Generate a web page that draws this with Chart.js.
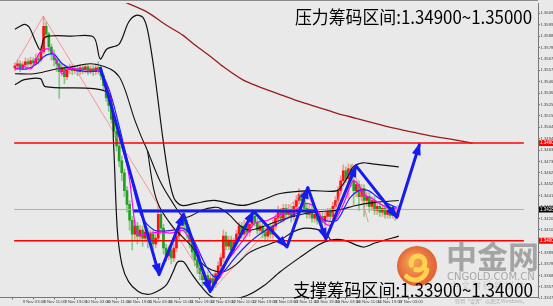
<!DOCTYPE html>
<html><head><meta charset="utf-8">
<script src="https://cdn.jsdelivr.net/npm/chart.js@4.4.0/dist/chart.umd.min.js"></script>
<style>html,body{margin:0;padding:0;background:#e9e9e9;}canvas{display:block;}</style>
</head><body>
<canvas id="c" width="553" height="306"></canvas>
<script>
// ---- data (hourly bars, 9 Nov 00:00 -> 17 Nov 03:00) ----
const open = [1.35593,1.35611,1.35630,1.35593,1.35620,1.35648,1.35630,1.35657,1.35639,1.35675,
1.35666,1.35739,1.35976,1.35903,1.35785,1.35721,1.35666,1.35630,1.35557,1.35593,
1.35511,1.35575,1.35593,1.35566,1.35584,1.35557,1.35593,1.35575,1.35602,1.35566,
1.35584,1.35557,1.35593,1.35575,1.35520,1.35429,1.35319,1.35247,1.35119,1.35009,
1.34873,1.34736,1.34626,1.34462,1.34335,1.34189,1.34061,1.34134,1.34043,1.34097,
1.34024,1.34079,1.34006,1.34061,1.33970,1.34024,1.34243,1.34116,1.33933,1.33860,
1.33915,1.33842,1.33933,1.34043,1.34152,1.34225,1.34152,1.34079,1.33988,1.33897,
1.33824,1.33751,1.33696,1.33641,1.33678,1.33614,1.33651,1.33605,1.33696,1.33769,
1.33842,1.34043,1.33951,1.34006,1.33915,1.33988,1.34061,1.34134,1.34061,1.34134,
1.34079,1.34152,1.34225,1.34170,1.34097,1.34134,1.34079,1.34043,1.34116,1.34061,
1.34134,1.34207,1.34262,1.34207,1.34298,1.34243,1.34280,1.34225,1.34316,1.34371,
1.34426,1.34371,1.34298,1.34243,1.34280,1.34207,1.34243,1.34189,1.34225,1.34170,
1.34225,1.34262,1.34225,1.34316,1.34371,1.34462,1.34553,1.34645,1.34572,1.34663,
1.34553,1.34462,1.34517,1.34407,1.34480,1.34371,1.34407,1.34316,1.34371,1.34280,
1.34316,1.34262,1.34298,1.34243,1.34280,1.34234,1.34262,1.34225];
const close = [1.35611,1.35630,1.35593,1.35620,1.35648,1.35630,1.35657,1.35639,1.35675,1.35666,
1.35739,1.35976,1.35903,1.35785,1.35721,1.35666,1.35630,1.35557,1.35593,1.35511,
1.35575,1.35593,1.35566,1.35584,1.35557,1.35593,1.35575,1.35602,1.35566,1.35584,
1.35557,1.35593,1.35575,1.35520,1.35429,1.35319,1.35247,1.35119,1.35009,1.34873,
1.34736,1.34626,1.34462,1.34335,1.34189,1.34061,1.34134,1.34043,1.34097,1.34024,
1.34079,1.34006,1.34061,1.33970,1.34024,1.34243,1.34116,1.33933,1.33860,1.33915,
1.33842,1.33933,1.34043,1.34152,1.34225,1.34152,1.34079,1.33988,1.33897,1.33824,
1.33751,1.33696,1.33641,1.33678,1.33614,1.33651,1.33605,1.33696,1.33769,1.33842,
1.34043,1.33951,1.34006,1.33915,1.33988,1.34061,1.34134,1.34061,1.34134,1.34079,
1.34152,1.34225,1.34170,1.34097,1.34134,1.34079,1.34043,1.34116,1.34061,1.34134,
1.34207,1.34262,1.34207,1.34298,1.34243,1.34280,1.34225,1.34316,1.34371,1.34426,
1.34371,1.34298,1.34243,1.34280,1.34207,1.34243,1.34189,1.34225,1.34170,1.34225,
1.34262,1.34225,1.34316,1.34371,1.34462,1.34553,1.34645,1.34572,1.34663,1.34553,
1.34462,1.34517,1.34407,1.34480,1.34371,1.34407,1.34316,1.34371,1.34280,1.34316,
1.34262,1.34298,1.34243,1.34280,1.34234,1.34262,1.34225,1.34289];
const high = [1.35639,1.35666,1.35657,1.35648,1.35684,1.35675,1.35693,1.35684,1.35721,1.35721,
1.35794,1.36067,1.36013,1.35921,1.35812,1.35757,1.35703,1.35666,1.35630,1.35620,
1.35602,1.35630,1.35620,1.35611,1.35611,1.35620,1.35620,1.35630,1.35620,1.35611,
1.35611,1.35630,1.35648,1.35602,1.35538,1.35447,1.35356,1.35283,1.35155,1.35046,
1.34918,1.34781,1.34663,1.34499,1.34371,1.34225,1.34189,1.34170,1.34143,1.34134,
1.34116,1.34116,1.34097,1.34097,1.34079,1.34325,1.34280,1.34152,1.33970,1.33951,
1.33951,1.33970,1.34079,1.34189,1.34280,1.34262,1.34189,1.34116,1.34024,1.33933,
1.33860,1.33787,1.33733,1.33714,1.33714,1.33687,1.33696,1.33733,1.33806,1.33879,
1.34097,1.34079,1.34043,1.34043,1.34024,1.34097,1.34170,1.34170,1.34189,1.34170,
1.34207,1.34280,1.34262,1.34207,1.34189,1.34170,1.34116,1.34152,1.34152,1.34189,
1.34243,1.34316,1.34298,1.34335,1.34335,1.34335,1.34316,1.34353,1.34417,1.34480,
1.34462,1.34407,1.34335,1.34325,1.34316,1.34280,1.34280,1.34262,1.34262,1.34262,
1.34298,1.34298,1.34353,1.34407,1.34499,1.34599,1.34699,1.34681,1.34708,1.34699,
1.34590,1.34553,1.34553,1.34517,1.34517,1.34444,1.34444,1.34407,1.34407,1.34353,
1.34353,1.34335,1.34335,1.34316,1.34316,1.34298,1.34298,1.34325];
const low = [1.35566,1.35593,1.35557,1.35575,1.35602,1.35593,1.35611,1.35602,1.35630,1.35630,
1.35648,1.35721,1.35867,1.35739,1.35666,1.35611,1.35557,1.35310,1.35520,1.35447,
1.35484,1.35538,1.35529,1.35538,1.35520,1.35529,1.35538,1.35547,1.35529,1.35538,
1.35520,1.35529,1.35538,1.35484,1.35392,1.35283,1.35192,1.35082,1.34955,1.34827,
1.34681,1.34553,1.34407,1.34262,1.34097,1.33915,1.34006,1.33970,1.34006,1.33951,
1.33988,1.33933,1.33970,1.33915,1.33933,1.33988,1.34061,1.33879,1.33806,1.33824,
1.33787,1.33806,1.33897,1.34006,1.34116,1.34097,1.34024,1.33933,1.33842,1.33769,
1.33696,1.33641,1.33587,1.33605,1.33550,1.33568,1.33541,1.33568,1.33660,1.33733,
1.33806,1.33915,1.33915,1.33860,1.33879,1.33951,1.34024,1.34024,1.34024,1.34043,
1.34043,1.34116,1.34134,1.34061,1.34061,1.34024,1.33988,1.34006,1.34024,1.34024,
1.34097,1.34170,1.34170,1.34170,1.34207,1.34207,1.34170,1.34189,1.34280,1.34335,
1.34335,1.34262,1.34207,1.34207,1.34170,1.34170,1.34152,1.34152,1.34134,1.34134,
1.34189,1.34189,1.34189,1.34280,1.34335,1.34426,1.34517,1.34535,1.34389,1.34499,
1.34335,1.34407,1.34280,1.34371,1.34225,1.34316,1.34262,1.34280,1.34243,1.34243,
1.34225,1.34225,1.34207,1.34207,1.34207,1.34207,1.34189,1.34207];

// time axis labels (bar index, text)
const timeTickBars = [3,11,19,27,35,43,51,59,67,75,83,91,99,107,115,123,131,139,147];
const timeTickText = ['9 Nov 03:00','9 Nov 11:00','9 Nov 19:00','10 Nov 03:00','10 Nov 11:00','10 Nov 19:00',
'11 Nov 03:00','11 Nov 11:00','11 Nov 19:00','12 Nov 03:00','12 Nov 11:00','12 Nov 19:00','13 Nov 03:00',
'13 Nov 11:00','13 Nov 19:00','16 Nov 03:00','16 Nov 11:00','16 Nov 19:00','17 Nov 03:00'];
// price axis labels
const priceTicks = [1.33470,1.33575,1.33680,1.33785,1.33890,1.33995,1.34100,1.34205,1.34310,1.34415,1.34520,
1.34625,1.34730,1.34835,1.34940,1.35045,1.35150,1.35255,1.35360,1.35465,1.35570,1.35675,1.35780,1.35885,1.35990,1.36095];

// indicator lines [bar index, price]
const maFast = [[0,1.35584],[3.6,1.35602],[6.2,1.35584],[8,1.35666],[9.8,1.35739],[11.6,1.35766],[13.8,1.35757],
[15.6,1.35675],[17.1,1.35575],[18.2,1.35538],[20,1.35584],[22.9,1.35584],[28,1.35575],[31.6,1.35575],[33.5,1.35538],
[36.4,1.35329],[40,1.34964],[43.6,1.34626],[46.5,1.34088],[48.4,1.34052],[52,1.34070],[56.4,1.34079],[59.3,1.34070],
[61.8,1.34079],[64.4,1.34097],[66.5,1.34034],[70.2,1.33915],[72.7,1.33669],[76.4,1.33623],[78.9,1.33669],[81.1,1.33796],
[84.7,1.33915],[88.4,1.34034],[92,1.34161],[97.1,1.34189],[101.8,1.34243],[106.5,1.34262],[111.6,1.34344],[115.3,1.34307],
[118.9,1.34161],[121.1,1.34143],[123.6,1.34216],[126.2,1.34344],[129.8,1.34553],[132,1.34508],[134.5,1.34417],
[137.1,1.34389],[139.3,1.34353],[142.9,1.34307],[146.5,1.34298]];
const maSlow = [[0,1.35584],[4.7,1.35584],[8.4,1.35630],[10.9,1.35693],[13.5,1.35721],[15.3,1.35712],[18.2,1.35630],
[21.8,1.35584],[28,1.35557],[32.7,1.35557],[36.4,1.35374],[40,1.35055],[43.6,1.34690],[48.4,1.34234],[53.5,1.34097],
[60.7,1.34097],[64.4,1.34116],[68,1.34034],[72.7,1.33796],[76.4,1.33669],[80,1.33714],[84.7,1.33851],[89.8,1.33979],
[94.5,1.34070],[101.8,1.34170],[109.1,1.34262],[113.8,1.34280],[118.9,1.34189],[123.6,1.34189],[128.4,1.34389],
[132,1.34462],[135.6,1.34462],[139.3,1.34398],[142.9,1.34344],[146.5,1.34307]];
const bandUpper = [[0,1.35949],[3.6,1.35994],[5.5,1.35967],[8,1.35830],[9.8,1.35757],[11.6,1.35876],[21.8,1.35885],
[30.2,1.35876],[32.7,1.35675],[35.3,1.35766],[40,1.35812],[43.6,1.36013],[46.5,1.36076],[49.1,1.36058],[50.9,1.35940],
[53.5,1.35557],[56.4,1.35009],[58.9,1.34599],[61.1,1.34389],[64,1.34325],[69.1,1.34344],[76.4,1.34371],[87.3,1.34325],
[94.5,1.34371],[101.8,1.34435],[113.8,1.34462],[123.6,1.34462],[127.3,1.34572],[129.8,1.34681],[133.5,1.34718],
[137.1,1.34708],[147.3,1.34681]];
const bandMiddle = [[0,1.35538],[7.3,1.35538],[14.5,1.35575],[21.8,1.35602],[29.1,1.35630],[36.4,1.35584],[40,1.35511],
[42.5,1.35374],[45.5,1.35146],[48.4,1.34964],[50.9,1.34827],[55.6,1.34553],[60.7,1.34344],[64.7,1.34216],[68,1.34234],
[71.6,1.34280],[76.4,1.34307],[78.9,1.34298],[82.5,1.34234],[86.2,1.34143],[89.8,1.34097],[93.5,1.34116],[101.8,1.34189],
[113.8,1.34262],[123.6,1.34280],[130.9,1.34325],[138.2,1.34353],[147.3,1.34371]];
const bandLower = [[0,1.35438],[3.6,1.35484],[9.8,1.35493],[11.6,1.35420],[30.2,1.35402],[36.4,1.35347],[37.8,1.34918],
[39.3,1.34097],[41.1,1.33778],[43.6,1.33623],[47.3,1.33532],[50.9,1.33505],[54.5,1.33532],[58.2,1.33596],[60.7,1.33714],
[62.5,1.33806],[64.7,1.33806],[67.3,1.33714],[70.9,1.33596],[75.3,1.33486],[81.8,1.33459],[89.1,1.33495],[95.6,1.33587],
[101.8,1.33714],[109.1,1.33842],[116.4,1.33961],[121.1,1.34006],[126.2,1.34006],[133.5,1.33942],[138.2,1.33979],[147.3,1.34043]];
const bandInner = [[50.9,1.34827],[53.2,1.34480],[55.6,1.34307],[60.7,1.34125],[64.4,1.34034],[68,1.33942],
[71.6,1.33796],[75.3,1.33733],[80,1.33714],[84.7,1.33778],[89.8,1.33888],[94.5,1.33942],[101.8,1.34006],[106.5,1.34079],
[111.6,1.34116],[118.9,1.34079],[121.1,1.34006]];
const maLong = [[42.5,1.36195],[50.9,1.36104],[58.2,1.35985],[64.4,1.35894],[69.1,1.35803],[75.3,1.35693],[80,1.35602],
[87.3,1.35484],[93.5,1.35420],[101.8,1.35347],[109.1,1.35283],[116.4,1.35228],[123.6,1.35174],[130.9,1.35128],
[138.2,1.35082],[145.5,1.35037],[152.7,1.35000],[160,1.34964],[167.3,1.34936],[175.6,1.34900]];
const zigzag = [[0,1.35620],[10.9,1.36067],[55.3,1.34316],[75.6,1.33541],[110.9,1.34462],[120,1.34134],[129.5,1.34708],[135.6,1.34170]];
// hand-drawn forecast path and levels
const arrowPath = [[32.7,1.35602],[55.3,1.33687],[64.7,1.34243],[74.9,1.33532],[91.6,1.34271],[104.4,1.33942],
[112.4,1.34490],[119.3,1.34015],[130.9,1.34690],[146.5,1.34216],[155.3,1.34891]];
const neckline = [[45.5,1.34275],[115.6,1.34275]];
const resistance = 1.34900, support = 1.34000, bid = 1.34288;
const textTop = '压力筹码区间:1.34900~1.35000';
const textBottom = '支撑筹码区间:1.33900~1.34000';

const X_MIN = -0.3, X_MAX = 195.3;
const pts = a => a.map(([x,y]) => ({x, y}));
const hline = v => [{x:X_MIN,y:v},{x:X_MAX,y:v}];
const up = i => close[i] >= open[i];
const BLUE = 'rgb(22,28,236)';

const lineDs = (data, color, width, order, extra) => Object.assign({
  type:'line', data, borderColor:color, borderWidth:width, pointRadius:0, tension:0, fill:false, order
}, extra||{});

const bgPlugin = {
  id:'bg',
  beforeDraw(c){ const g=c.ctx; g.save(); g.fillStyle='#e9e9e9'; g.fillRect(0,0,c.width,c.height);
    g.strokeStyle='#8a8a8a'; g.lineWidth=1; g.beginPath(); g.moveTo(0,0.5); g.lineTo(c.chartArea.right,0.5); g.stroke(); g.restore(); }
};
const arrowPlugin = {
  id:'arrows',
  afterDatasetsDraw(c){
    const g=c.ctx, xs=c.scales.x, ys=c.scales.y, a=c.chartArea;
    g.save(); g.beginPath(); g.rect(a.left,a.top,a.right-a.left,a.bottom-a.top); g.clip();
    g.fillStyle=BLUE;
    for(let i=1;i<arrowPath.length;i++){
      const x0=xs.getPixelForValue(arrowPath[i-1][0]), y0=ys.getPixelForValue(arrowPath[i-1][1]);
      const x1=xs.getPixelForValue(arrowPath[i][0]), y1=ys.getPixelForValue(arrowPath[i][1]);
      const t=Math.atan2(y1-y0,x1-x0), L=11, W=4.5, ct=Math.cos(t), st=Math.sin(t);
      g.beginPath(); g.moveTo(x1+ct*1.5,y1+st*1.5);
      g.lineTo(x1-L*ct+W*st, y1-L*st-W*ct);
      g.lineTo(x1-L*ct-W*st, y1-L*st+W*ct);
      g.closePath(); g.fill();
    }
    g.restore();
  }
};
const decoPlugin = {
  id:'deco',
  afterDraw(c){
    const g=c.ctx, ys=c.scales.y, a=c.chartArea;
    g.save();
    // watermark logo
    const cx=417, cy=266;
    const grd=g.createRadialGradient(cx-5,cy-6,2,cx,cy,21);
    grd.addColorStop(0,'rgba(250,150,60,0.85)'); grd.addColorStop(1,'rgba(222,70,20,0.85)');
    g.fillStyle=grd; g.beginPath(); g.arc(cx,cy,20,0,Math.PI*2); g.fill();
    g.strokeStyle='rgba(255,215,80,0.95)'; g.lineWidth=5; g.lineCap='round';
    g.beginPath(); g.arc(cx+1,cy-3,7,Math.PI*0.9,Math.PI*2.6); g.stroke();
    g.beginPath(); g.arc(cx-2,cy+2,12,Math.PI*0.05,Math.PI*0.75); g.stroke();
    g.fillStyle='rgba(140,140,140,0.75)';
    g.font='bold 31px "Noto Sans CJK SC"'; g.textBaseline='alphabetic'; g.textAlign='left';
    g.fillText('中金网',446,268);
    g.font='10px "DejaVu Sans"'; g.fillStyle='rgba(150,150,150,0.8)';
    g.fillText('CNGOLD.COM.CN',447,280);
    g.font='9px "Noto Sans CJK SC"'; g.fillStyle='rgba(170,170,170,0.5)';
    g.fillText('中 文 财 经 新 媒 体',450,289);
    g.font='5px "Noto Sans CJK SC"'; g.fillStyle='rgba(150,150,150,0.7)';
    g.fillText('转到“设置”以激活 Windows。',455,303);
    // annotation texts
    g.fillStyle='#000';
    g.font='18px "Noto Sans CJK SC"';
    const fit=(t,x,y,w)=>{ const m=g.measureText(t).width; g.save(); g.translate(x,y); g.scale(w/m,1); g.fillText(t,0,0); g.restore(); };
    fit(textTop,295,24,237);
    fit(textBottom,293,297,240);
    // axis value boxes
    const box=(v,bgc)=>{ const y=ys.getPixelForValue(v); g.fillStyle=bgc; g.fillRect(a.right+1,y-3,15,6);
      g.fillStyle='#fff'; g.font='4.5px "Liberation Sans"'; g.textBaseline='middle'; g.textAlign='left'; g.fillText(v.toFixed(5),a.right+2,y); };
    box(resistance,'#ff0000'); box(bid,'#000'); box(support,'#ff0000');
    g.restore();
  }
};

new Chart(document.getElementById('c'), {
  data:{ datasets:[
    lineDs(pts(arrowPath), BLUE, 3, 0, {borderJoinStyle:'round'}),
    lineDs(pts(neckline), BLUE, 3, 1),
    lineDs(hline(resistance), '#ff0000', 1.5, 2),
    lineDs(hline(support), '#ff0000', 1.5, 2),
    lineDs(pts(maFast), '#ff00ff', 1.2, 3, {tension:0.3}),
    lineDs(pts(maSlow), '#1f1fff', 1.2, 3, {tension:0.3}),
    lineDs(pts(bandUpper), '#111', 1.2, 4, {tension:0.3}),
    lineDs(pts(bandMiddle), '#111', 1.1, 4, {tension:0.3}),
    lineDs(pts(bandLower), '#111', 1.2, 4, {tension:0.3}),
    lineDs(pts(bandInner), '#111', 1.1, 4, {tension:0.3}),
    lineDs(pts(zigzag), 'rgba(245,130,130,0.8)', 1, 5),
    lineDs(pts(maLong), '#9b1b1b', 1.3, 6, {tension:0.3}),
    lineDs(hline(bid), '#a9b0b8', 1, 7),
    { type:'bar', order:8, grouped:false, barThickness:2, minBarLength:1,
      data: open.map((o,i)=>({x:i, y:[o, close[i]]})),
      backgroundColor: open.map((o,i)=> up(i)?'#ff1010':'#23a023') },
    { type:'bar', order:9, grouped:false, barThickness:1,
      data: open.map((o,i)=>({x:i, y:[low[i], high[i]]})),
      backgroundColor: open.map((o,i)=> up(i)?'rgba(250,140,140,0.9)':'rgba(120,200,120,0.9)') }
  ]},
  options:{
    responsive:false, animation:false, devicePixelRatio:1,
    layout:{padding:0},
    plugins:{legend:{display:false}, tooltip:{enabled:false}},
    scales:{
      x:{ type:'linear', min:X_MIN, max:X_MAX, position:'bottom',
        grid:{display:true, drawOnChartArea:false, tickLength:2, color:'#777'},
        border:{color:'#777'},
        afterBuildTicks(s){ s.ticks = timeTickBars.map(v=>({value:v})); },
        afterFit(s){ s.height = 8.5; },
        ticks:{ autoSkip:false, maxRotation:0, align:'start', padding:0, color:'#444',
          font:{size:4.2, family:'Liberation Sans'},
          callback:(v)=>{ const k=timeTickBars.indexOf(v); return k>=0?timeTickText[k]:''; } } },
      y:{ type:'linear', position:'right', min:1.33477, max:1.36190,
        grid:{display:true, drawOnChartArea:false, tickLength:2, color:'#777'},
        border:{color:'#777'},
        afterBuildTicks(s){ s.ticks = priceTicks.map(v=>({value:v})); },
        afterFit(s){ s.width = 15; },
        ticks:{ autoSkip:false, padding:0.5, color:'#444', font:{size:4.2, family:'Liberation Sans'},
          callback:(v)=>v.toFixed(5) } }
    }
  },
  plugins:[bgPlugin, arrowPlugin, decoPlugin]
});
</script>
</body></html>
